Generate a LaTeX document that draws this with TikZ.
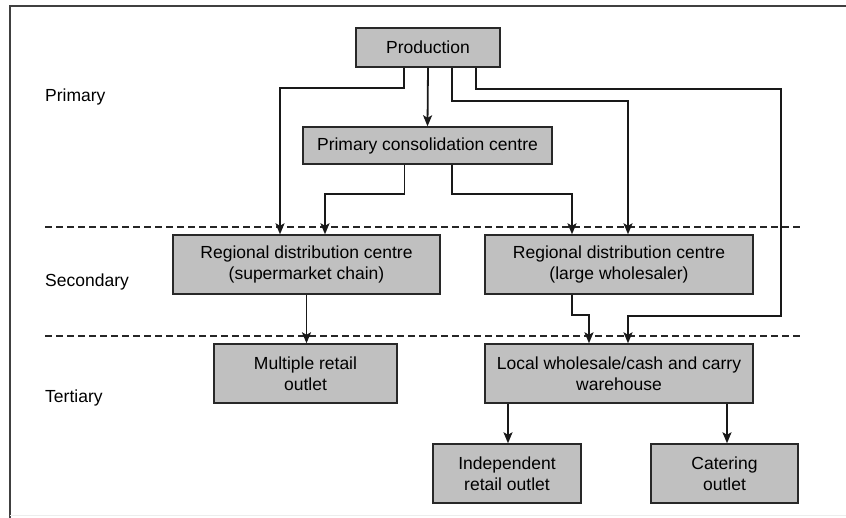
\documentclass[tikz,border=0pt]{standalone}
\usepackage{fontspec}
\setmainfont{Liberation Sans}
\usetikzlibrary{arrows.meta}
\definecolor{boxfill}{RGB}{192,192,192}
\definecolor{boxline}{RGB}{40,40,40}
\begin{document}
\begin{tikzpicture}[x=1pt,y=-1pt,
  stagebox/.style={draw=boxline,fill=boxfill,line width=1.4pt,inner sep=0pt,align=center,
    font=\fontsize{17.5}{21}\selectfont},
  tierlabel/.style={anchor=west,inner sep=0pt,font=\fontsize{17.5}{21}\selectfont},
  arr/.style={line width=1.8pt,draw=black!90,-{Stealth[length=11pt,width=9pt,inset=2.5pt]}},
  tierline/.style={line width=1.5pt,draw=black!85,dash pattern=on 7pt off 4pt}]
\useasboundingbox (0,0) rectangle (846,518);
% frame
\draw[line width=1.8pt,draw=black!75] (10,518) -- (10,6) -- (846,6);
\draw[line width=0.8pt,draw=black!7] (10,515.5) -- (846,515.5);
% tier lines
\draw[tierline] (45,227) -- (800,227);
\draw[tierline] (45,336) -- (800,336);
% tier labels
\node[tierlabel] (lprim) at (45,97) {Primary};
\node[tierlabel] (lsec) at (45,282) {Secondary};
\node[tierlabel] (lter) at (45,398) {Tertiary};
% boxes
\node[stagebox,minimum width=144pt,minimum height=39pt] (prod) at (428,47.5) {Production};
\node[stagebox,minimum width=249pt,minimum height=37pt] (pcc) at (427.5,145.5) {Primary consolidation centre};
\node[stagebox,minimum width=267pt,minimum height=59pt] (rdc1) at (306.5,264.5) {Regional distribution centre\\(supermarket chain)};
\node[stagebox,minimum width=268pt,minimum height=59pt] (rdc2) at (619,264.5) {Regional distribution centre\\(large wholesaler)};
\node[stagebox,minimum width=183pt,minimum height=59pt] (mro) at (305.5,373.5) {Multiple retail\\outlet};
\node[stagebox,minimum width=268pt,minimum height=59pt] (lw) at (619,373.5) {Local wholesale/cash and carry\\warehouse};
\node[stagebox,minimum width=148pt,minimum height=59pt] (ind) at (507,473.5) {Independent\\retail outlet};
\node[stagebox,minimum width=147pt,minimum height=59pt] (cat) at (724.5,473.5) {Catering\\outlet};
% connectors
\draw[arr] ([xshift=-24pt]prod.south) -- ++(0,20) -| ([xshift=-26.5pt]rdc1.north);
\draw[arr] (prod.south) -- (pcc.north);
\draw[arr] ([xshift=24pt]prod.south) -- ++(0,33) -| ([xshift=9pt]rdc2.north);
\draw[arr] ([xshift=48pt]prod.south) -- ++(0,21) -- ++(305,0) -- ++(0,227) -| ([xshift=9pt]lw.north);
\draw[arr] ([xshift=-23pt]pcc.south) -- ++(0,29) -| ([xshift=18.5pt]rdc1.north);
\draw[arr] ([xshift=24.5pt]pcc.south) -- ++(0,29) -| ([xshift=-47pt]rdc2.north);
\draw[arr] (rdc1.south) -- (rdc1.south |- mro.north);
\draw[arr] ([xshift=-47pt]rdc2.south) -- ++(0,20) -| ([xshift=-30pt]lw.north);
\draw[arr] ([xshift=-111pt]lw.south) -- ([xshift=-111pt]lw.south |- ind.north);
\draw[arr] ([xshift=108pt]lw.south) -- ([xshift=108pt]lw.south |- cat.north);
\end{tikzpicture}
\end{document}
